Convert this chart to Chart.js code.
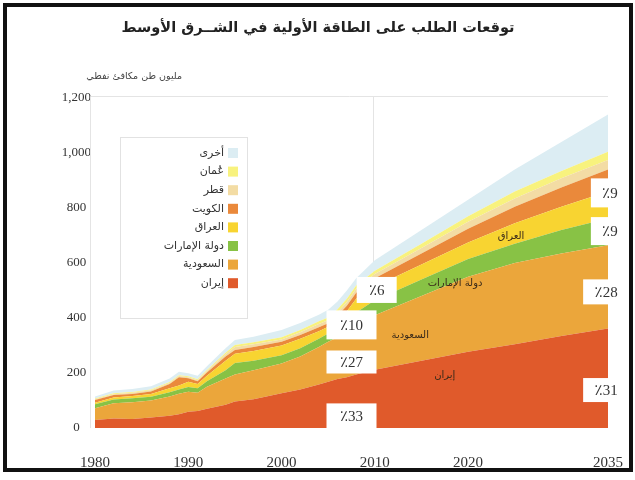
<!DOCTYPE html>
<html>
<head>
<meta charset="utf-8">
<script src="https://cdn.jsdelivr.net/npm/chart.js@4.4.1/dist/chart.umd.min.js"></script>
<style>
  html, body { margin: 0; padding: 0; background: #fff; }
  #wrap { width: 635px; height: 480px; }
</style>
</head>
<body>
<div id="wrap"><canvas id="chart" width="635" height="480"></canvas></div>
<script>
// Middle East primary energy demand, Mtoe
const years  = [1980, 1982, 1984, 1986, 1988, 1989, 1990, 1991, 1992, 1994, 1995, 1997, 2000, 2002, 2004, 2005, 2006, 2007, 2008, 2010, 2015, 2020, 2025, 2030, 2035];
const iran   = [29, 35, 33, 38, 45, 50, 59, 62, 70, 85, 96, 105, 126, 140, 158, 168, 178, 185, 195, 212, 245, 277, 305, 335, 362];
const saudi  = [43, 55, 61, 62, 70, 75, 73, 66, 80, 95, 99, 105, 109, 120, 137, 146, 152, 160, 175, 198, 235, 273, 295, 300, 303];
const uae    = [14, 14, 14, 14, 15, 15, 17, 17, 20, 30, 41, 35, 30, 30, 30, 30, 35, 45, 50, 55, 60, 65, 70, 85, 97];
const iraq   = [6, 7, 8, 10, 15, 15, 19, 15, 20, 35, 34, 35, 35, 35, 27, 24, 30, 35, 50, 50, 55, 60, 75, 85, 98];
const kuwait = [10, 9, 8, 9, 15, 30, 13, 10, 12, 15, 14, 15, 14, 13, 14, 13, 13, 20, 22, 30, 40, 50, 60, 70, 80];
const qatar  = [3, 3, 4, 4, 4, 4, 4, 4, 5, 8, 11, 10, 8, 10, 12, 11, 12, 13, 14, 15, 20, 25, 30, 33, 35];
const oman   = [2, 3, 3, 3, 3, 3, 3, 3, 4, 6, 7, 7, 8, 8, 10, 10, 12, 12, 12, 12, 15, 20, 25, 27, 30];
const other  = [8, 10, 11, 12, 13, 13, 11, 13, 14, 16, 18, 20, 26, 26, 24, 28, 28, 30, 27, 38, 50, 60, 80, 105, 135];

const seriesNames  = ['إيران', 'السعودية', 'دولة الإمارات', 'العراق', 'الكويت', 'قطر', 'عُمان', 'أخرى'];
const seriesData   = [iran, saudi, uae, iraq, kuwait, qatar, oman, other];
const seriesColors = ['#e05a2b', '#eba63b', '#88c245', '#f8d431', '#ea893b', '#f3dca4', '#f8f27e', '#dcedf3'];

const xTicks = [1980, 1990, 2000, 2010, 2020, 2035];
const yTicks = [0, 200, 400, 600, 800, 1000, 1200];

const titleText = 'توقعات الطلب على الطاقة الأولية في الشــرق الأوسط';
const unitText = 'مليون طن مكافئ نفطي';

// share boxes: position in data units (year, value)
const shareLabels = [
  { text: '٪33', year: 2007.5, value: 44,  w: 50, h: 25 },
  { text: '٪27', year: 2007.5, value: 240, w: 50, h: 23 },
  { text: '٪10', year: 2007.5, value: 375, w: 50, h: 29 },
  { text: '٪6',  year: 2010.2, value: 502, w: 40, h: 26 },
  { text: '٪9',  year: 2035.2, value: 855, w: 38, h: 29 },
  { text: '٪9',  year: 2035.2, value: 716, w: 38, h: 28 },
  { text: '٪28', year: 2034.8, value: 495, w: 46, h: 25 },
  { text: '٪31', year: 2034.8, value: 138, w: 46, h: 24 }
];
const areaLabels = [
  { text: 'إيران', year: 2017.5, value: 193 },
  { text: 'السعودية', year: 2013.8, value: 338 },
  { text: 'دولة الإمارات', year: 2018.6, value: 527 },
  { text: 'العراق', year: 2024.6, value: 695 }
];

const datasets = seriesData.map((arr, i) => ({
  label: seriesNames[i],
  data: years.map((yr, j) => ({ x: yr, y: arr[j] })),
  backgroundColor: seriesColors[i],
  borderColor: seriesColors[i],
  borderWidth: 0,
  pointRadius: 0,
  fill: i === 0 ? 'origin' : '-1'
}));

const decor = {
  id: 'decor',
  beforeDraw(chart) {
    const ctx = chart.ctx;
    ctx.save();
    ctx.fillStyle = '#ffffff';
    ctx.fillRect(0, 0, chart.width, chart.height);
    ctx.restore();
  },
  beforeDatasetsDraw(chart) {
    const { ctx, scales: { x, y } } = chart;
    ctx.save();
    ctx.strokeStyle = '#e4e4e4';
    ctx.lineWidth = 1;
    ctx.beginPath();
    ctx.moveTo(x.left - 4.5, y.bottom);
    ctx.lineTo(x.left - 4.5, y.top - 1.5);
    ctx.lineTo(x.right, y.top - 1.5);
    ctx.stroke();
    const px = Math.round(x.getPixelForValue(2010)) - 1.5;
    ctx.beginPath();
    ctx.moveTo(px, y.top - 1.5);
    ctx.lineTo(px, y.bottom);
    ctx.stroke();
    ctx.restore();
  },
  afterDraw(chart) {
    const { ctx, scales: { x, y } } = chart;
    ctx.save();

    // title + unit
    ctx.fillStyle = '#222';
    ctx.direction = 'rtl';
    ctx.textAlign = 'center';
    ctx.textBaseline = 'middle';
    ctx.font = 'bold 14.5px "DejaVu Sans"';
    ctx.fillText(titleText, 318, 28);
    ctx.font = '9.5px "DejaVu Sans"';
    ctx.fillStyle = '#444';
    ctx.textAlign = 'right';
    ctx.fillText(unitText, 182, 77);

    // legend box
    ctx.strokeStyle = '#e2e2e2';
    ctx.lineWidth = 1;
    ctx.strokeRect(120.5, 137.5, 127, 181);
    ctx.font = '11px "DejaVu Sans"';
    for (let k = 0; k < seriesNames.length; k++) {
      const i = seriesNames.length - 1 - k;
      const cy = 153 + k * 18.6;
      ctx.fillStyle = seriesColors[i];
      ctx.fillRect(228, cy - 5, 10, 10);
      ctx.fillStyle = '#333';
      ctx.textAlign = 'right';
      ctx.fillText(seriesNames[i], 224, cy);
    }

    // labels inside areas
    ctx.font = '10px "DejaVu Sans"';
    ctx.fillStyle = '#3a2a1a';
    ctx.textAlign = 'center';
    areaLabels.forEach(l => {
      ctx.fillText(l.text, x.getPixelForValue(l.year), y.getPixelForValue(l.value));
    });

    // share boxes
    ctx.direction = 'ltr';
    ctx.font = '15px "Liberation Serif", "DejaVu Sans"';
    shareLabels.forEach(l => {
      const cx = x.getPixelForValue(l.year);
      const cy = y.getPixelForValue(l.value);
      ctx.fillStyle = '#ffffff';
      ctx.fillRect(cx - l.w / 2, cy - l.h / 2, l.w, l.h);
      ctx.fillStyle = '#333';
      ctx.textAlign = 'center';
      ctx.fillText(l.text, cx, cy + 1);
    });

    // outer black frame
    ctx.strokeStyle = '#111';
    ctx.lineWidth = 4;
    ctx.strokeRect(5, 5, 626, 465);
    ctx.restore();
  }
};

new Chart(document.getElementById('chart').getContext('2d'), {
  type: 'line',
  data: { datasets },
  plugins: [decor],
  options: {
    responsive: false,
    animation: false,
    layout: { padding: { top: 98, right: 27, bottom: 0, left: 0 } },
    plugins: { legend: { display: false }, tooltip: { enabled: false } },
    elements: { line: { tension: 0, borderWidth: 0 }, point: { radius: 0 } },
    scales: {
      x: {
        type: 'linear',
        min: 1980,
        max: 2035,
        grid: { display: false },
        border: { display: false },
        afterBuildTicks: s => { s.ticks = xTicks.map(v => ({ value: v })); },
        afterFit: s => { s.height = 52; s.paddingLeft = 0; s.paddingRight = 0; },
        ticks: {
          padding: 18,
          autoSkip: false,
          maxRotation: 0,
          color: '#333',
          font: { family: 'Liberation Serif', size: 15 },
          callback: v => String(v)
        }
      },
      y: {
        stacked: true,
        min: 0,
        max: 1200,
        grid: { display: false },
        border: { display: false },
        afterBuildTicks: s => { s.ticks = yTicks.map(v => ({ value: v })); },
        afterFit: s => { s.width = 95; s.paddingTop = 0; s.paddingBottom = 0; },
        ticks: {
          padding: -4,
          crossAlign: 'center',
          color: '#333',
          font: { family: 'Liberation Serif', size: 13 },
          callback: v => v.toLocaleString('en-US')
        }
      }
    }
  }
});
</script>
</body>
</html>
